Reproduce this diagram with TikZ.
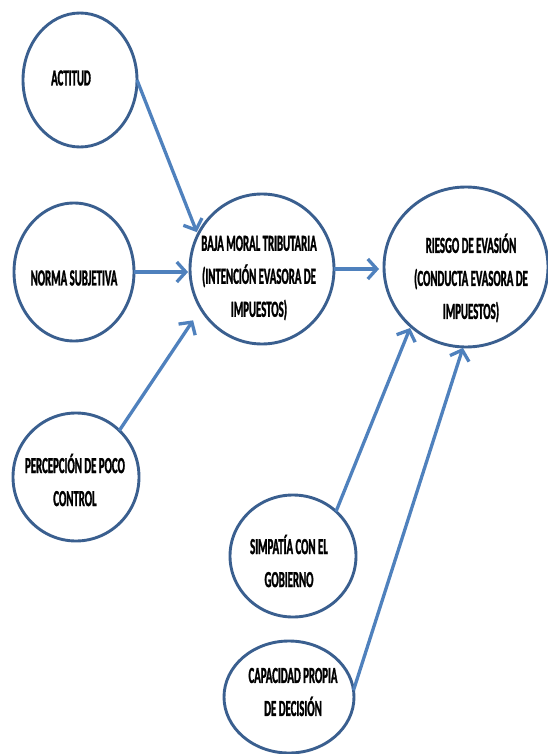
\documentclass[tikz,border=0pt]{standalone}
\usepackage{fontspec}
\newfontfamily\condfont[FakeStretch=0.47, FakeBold=1.2]{Carlito Bold}
\usetikzlibrary{shapes.geometric,arrows.meta}
\definecolor{rim}{HTML}{3A5F8F}
\definecolor{arrowblue}{HTML}{4F81BD}
\begin{document}
\begin{tikzpicture}[x=1pt,y=-1pt,
  bubble/.style={ellipse, draw=rim, line width=2.9pt, inner sep=0pt, outer sep=0pt},
  lbl/.style={align=center, inner sep=0pt, text=black, font=\condfont\fontsize{23}{33}\selectfont},
  link/.style={draw=arrowblue, line width=3.3pt, -{Straight Barb[length=9pt,width=20pt]}}
]
\useasboundingbox[fill=white] (0,0) rectangle (547,754);

\node[bubble, minimum width=114pt, minimum height=134pt] (act) at (80,80) {};
\node[bubble, minimum width=120pt, minimum height=138pt] (norma) at (74,272) {};
\node[bubble, minimum width=144pt, minimum height=150pt] (baja) at (262,269) {};
\node[bubble, minimum width=164pt, minimum height=160pt] (riesgo) at (466,267) {};
\node[bubble, minimum width=126pt, minimum height=128pt] (perc) at (76,477) {};
\node[bubble, minimum width=126pt, minimum height=122pt] (simp) at (293,556) {};
\node[bubble, minimum width=130pt, minimum height=112pt] (cap) at (289,697) {};

\node[lbl] (actT) at (71,78) {ACTITUD};
\node[lbl] (normaT) at (74,278) {NORMA SUBJETIVA};
\node[lbl] (bajaT) at (259,278) {BAJA MORAL TRIBUTARIA\\(INTENCIÓN EVASORA DE\\IMPUESTOS)};
\node[lbl] (riesgoT) at (471,278) {RIESGO DE EVASIÓN\\(CONDUCTA EVASORA DE\\IMPUESTOS)};
\node[lbl] (percT) at (75,480) {PERCEPCIÓN DE POCO\\CONTROL};
\node[lbl] (simpT) at (289,561) {SIMPATÍA CON EL\\GOBIERNO};
\node[lbl] (capT) at (293,692) {CAPACIDAD PROPIA\\DE DECISIÓN};

\draw[link, shorten >=3pt] (act.east) -- (baja.152);
\draw[link, shorten >=2pt] (norma.east) -- (norma.east -| baja.west);
\draw[link, shorten >=14pt] (perc.47) -- (baja.213);
\draw[link, shorten >=5pt] (baja.east) -- (baja.east -| riesgo.west);
\draw[link, shorten >=2pt] (simp.46) -- (riesgo.227);
\draw[link, shorten >=1pt] (cap.6) -- (riesgo.268);
\end{tikzpicture}
\end{document}
